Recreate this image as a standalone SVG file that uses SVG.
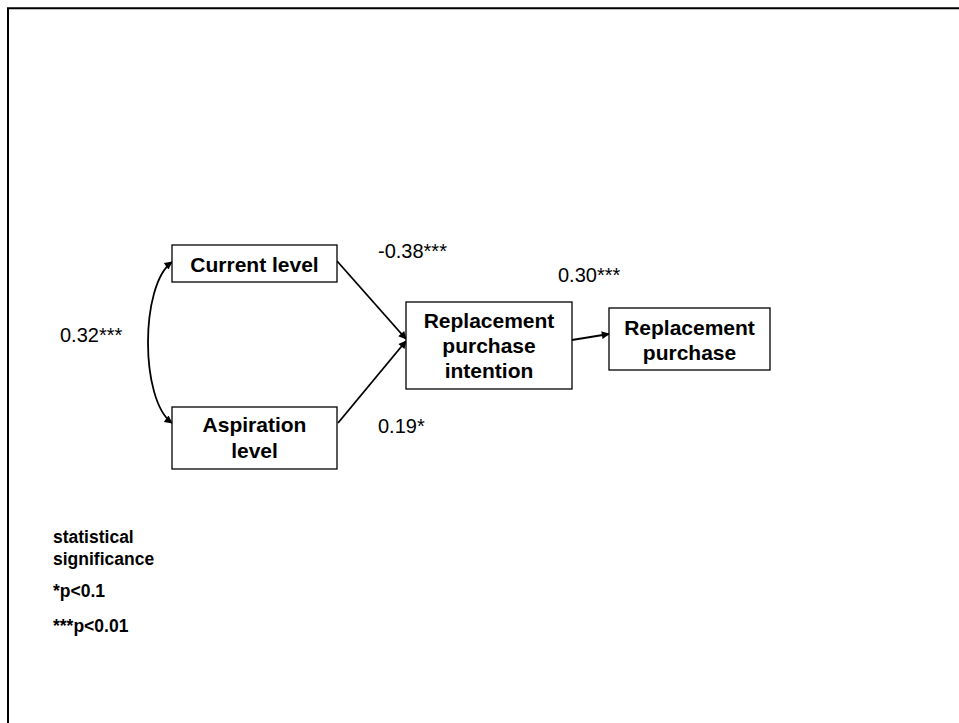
<svg xmlns="http://www.w3.org/2000/svg" width="959" height="723" viewBox="0 0 959 723">
  <defs>
    <marker id="arrow" viewBox="0 0 10 10" refX="9" refY="5" markerWidth="10" markerHeight="8" markerUnits="userSpaceOnUse" orient="auto-start-reverse">
      <path d="M0,0 L10,5 L0,10 z" fill="#000"/>
    </marker>
    <style>
      .box { fill: #fff; stroke: #000; stroke-width: 1.3; }
      .node-text { font-family: "Liberation Sans", Arial, sans-serif; font-weight: bold; font-size: 21px; fill: #000; text-anchor: middle; }
      .coef { font-family: "Liberation Sans", Arial, sans-serif; font-size: 20px; fill: #000; }
      .legend { font-family: "Liberation Sans", Arial, sans-serif; font-weight: bold; font-size: 17.5px; fill: #000; }
      .edge { fill: none; stroke: #000; stroke-width: 1.8; }
    </style>
  </defs>

  <rect width="959" height="723" fill="#fff"/>
  <!-- frame (top and left edges only) -->
  <path d="M8,723 V8.3 H959" fill="none" stroke="#000" stroke-width="2"/>

  <g id="connectors">
    <path class="edge" d="M172,262 C140,285 140,400 172,423" marker-start="url(#arrow)" marker-end="url(#arrow)"/>
    <line class="edge" x1="337" y1="261" x2="406" y2="339" marker-end="url(#arrow)"/>
    <line class="edge" x1="338" y1="423" x2="406" y2="341" marker-end="url(#arrow)"/>
    <line class="edge" x1="572" y1="340" x2="609" y2="334" marker-end="url(#arrow)"/>
  </g>

  <g id="current-level">
    <rect class="box" x="172" y="245" width="165" height="37"/>
    <text class="node-text" x="254.5" y="272">Current level</text>
  </g>

  <g id="aspiration-level">
    <rect class="box" x="172" y="407" width="165" height="62"/>
    <text class="node-text" x="254.5" y="432">Aspiration</text>
    <text class="node-text" x="254.5" y="458">level</text>
  </g>

  <g id="replacement-purchase-intention">
    <rect class="box" x="406" y="302" width="166" height="87"/>
    <text class="node-text" x="489" y="328">Replacement</text>
    <text class="node-text" x="489" y="353">purchase</text>
    <text class="node-text" x="489" y="378">intention</text>
  </g>

  <g id="replacement-purchase">
    <rect class="box" x="609" y="308" width="161" height="62"/>
    <text class="node-text" x="689.5" y="335">Replacement</text>
    <text class="node-text" x="689.5" y="360">purchase</text>
  </g>

  <g id="coefficients">
    <text class="coef" x="378" y="258">-0.38***</text>
    <text class="coef" x="558" y="282">0.30***</text>
    <text class="coef" x="60" y="342">0.32***</text>
    <text class="coef" x="378" y="433">0.19*</text>
  </g>

  <g id="legend">
    <text class="legend" x="53" y="543">statistical</text>
    <text class="legend" x="53" y="565">significance</text>
    <text class="legend" x="53" y="597">*p&lt;0.1</text>
    <text class="legend" x="53" y="632">***p&lt;0.01</text>
  </g>
</svg>
